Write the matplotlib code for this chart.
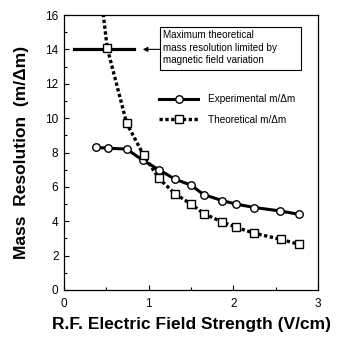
import matplotlib
matplotlib.use("Agg")
import matplotlib.pyplot as plt
from matplotlib.ticker import MultipleLocator

plt.rcParams['font.family'] = ['Liberation Sans', 'DejaVu Sans']

# values
exp_field = [0.38, 0.52, 0.74, 0.93, 1.12, 1.31, 1.50, 1.65, 1.87, 2.03, 2.25, 2.55, 2.78]
exp_resolution = [8.3, 8.25, 8.2, 7.55, 7.0, 6.45, 6.1, 5.55, 5.2, 5.0, 4.8, 4.6, 4.4]

theo_field = [0.455, 0.51, 0.74, 0.94, 1.12, 1.31, 1.50, 1.65, 1.87, 2.03, 2.25, 2.56, 2.78]
theo_resolution = [16.4, 14.1, 9.7, 7.85, 6.5, 5.6, 5.0, 4.45, 3.95, 3.65, 3.3, 2.95, 2.65]

limit_value = 14
limit_span = [0.12, 0.83]

fig = plt.figure(figsize=(3.41, 3.40), dpi=100)
ax = fig.add_axes([64 / 341, 50 / 340, 254 / 341, 275 / 340])

ax.plot(exp_field, exp_resolution, color='black', lw=2.2, marker='o', ms=5.4,
        mfc='white', mec='black', mew=1.0, label='Experimental m/\u0394m')
ax.plot(theo_field, theo_resolution, color='black', lw=2.4, ls=(0, (1, 0.75)),
        dash_capstyle='butt', marker='s', ms=6.2, mfc='white', mec='black', mew=1.0,
        markevery=list(range(1, len(theo_field))), label='Theoretical m/\u0394m')

# magnetic field limit
ax.plot(limit_span, [limit_value, limit_value], color='black', lw=2.3, zorder=1)
ax.add_patch(plt.Rectangle((1.13, 12.8), 1.67, 2.5, fill=False, ec='black', lw=0.8))
ax.text(1.17, 14.1, 'Maximum theoretical\nmass resolution limited by\nmagnetic field variation',
        fontsize=7.1, va='center', ha='left', linespacing=1.3)
ax.annotate('', xy=(0.93, limit_value), xytext=(1.13, limit_value),
            arrowprops=dict(arrowstyle='-|>', color='black', lw=0.8,
                            mutation_scale=7, shrinkA=0, shrinkB=0))

ax.legend(loc='upper left', bbox_to_anchor=(0.34, 0.745), frameon=False,
          fontsize=7.2, handlelength=3.9, handletextpad=1.0, labelspacing=1.05)

ax.set_xlim(0, 3)
ax.set_ylim(0, 16)
ax.xaxis.set_major_locator(MultipleLocator(1))
ax.xaxis.set_minor_locator(MultipleLocator(0.5))
ax.yaxis.set_major_locator(MultipleLocator(2))
ax.yaxis.set_minor_locator(MultipleLocator(1))
ax.tick_params(which='both', direction='in', labelsize=8.5, width=0.8)
ax.tick_params(which='major', length=3.5)
ax.tick_params(which='minor', length=2)
ax.tick_params(axis='x', pad=6)
ax.tick_params(axis='y', pad=4)
for s in ax.spines.values():
    s.set_linewidth(0.9)

ax.set_xlabel('R.F. Electric Field Strength (V/cm)', fontsize=12.5, fontweight='bold')
ax.set_ylabel('Mass  Resolution  (m/\u0394m)', fontsize=12.5, fontweight='bold')
ax.xaxis.set_label_coords(0.5, -0.1)
ax.yaxis.set_label_coords(-0.138, 0.5)

fig.savefig('out.png', dpi=100)
